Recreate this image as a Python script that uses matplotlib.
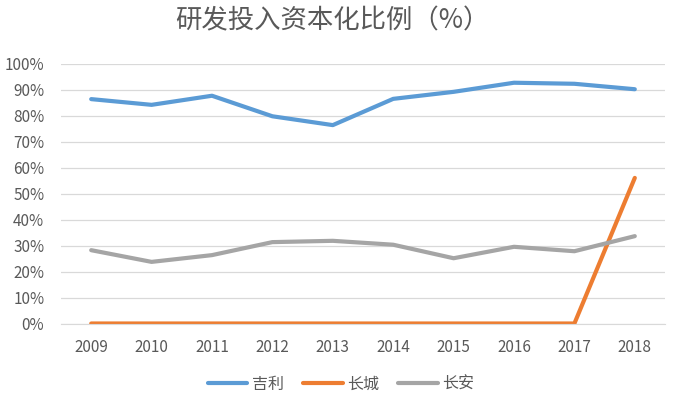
import matplotlib
matplotlib.use("Agg")
import matplotlib.pyplot as plt
from matplotlib.ticker import FuncFormatter

plt.rcParams['font.family'] = ['Noto Sans CJK SC', 'DejaVu Sans']

years = ['2009', '2010', '2011', '2012', '2013', '2014', '2015', '2016', '2017', '2018']
geely = [86.3, 84.1, 87.6, 79.7, 76.3, 86.4, 89.1, 92.6, 92.2, 90.1]
greatwall = [0, 0, 0, 0, 0, 0, 0, 0, 0, 56.0]
changan = [28.2, 23.7, 26.3, 31.3, 31.8, 30.3, 25.1, 29.5, 27.8, 33.6]
series_names = ['吉利', '长城', '长安']

fig = plt.figure(figsize=(6.73, 3.98), dpi=100)
ax = fig.add_axes([61/673, 1 - 323.5/398, 604/673, 260/398])

x = list(range(len(years)))
ax.plot(x, geely, color='#5B9BD5', lw=3, label=series_names[0], solid_capstyle='round')
ax.plot(x, greatwall, color='#ED7D31', lw=3, label=series_names[1], solid_capstyle='round')
ax.plot(x, changan, color='#A5A5A5', lw=3, label=series_names[2], solid_capstyle='round')

ax.set_xlim(-0.5, 9.5)
ax.set_ylim(0, 100)
ax.set_yticks(range(0, 101, 10))
ax.yaxis.set_major_formatter(FuncFormatter(lambda v, p: f"{int(v)}%"))
ax.set_xticks(x)
ax.set_xticklabels(years)
ax.grid(axis='y', color='#D9D9D9', lw=0.9)
ax.set_axisbelow(True)
for s in ['top', 'right', 'left']:
    ax.spines[s].set_visible(False)
ax.spines['bottom'].set_color('#D9D9D9')
ax.tick_params(axis='y', length=0, labelsize=11, labelcolor='#595959', pad=12)
ax.tick_params(axis='x', length=0, labelsize=11, labelcolor='#595959', pad=11)

fig.text(332/673, 1 - 21/398, '研发投入资本化比例（%）', ha='center', va='center',
         fontsize=19, color='#595959')

fig.legend(loc='center', bbox_to_anchor=(341/673, 1 - 384/398), ncol=3, frameon=False,
           fontsize=11.5, labelcolor='#595959', handlelength=2.5, columnspacing=1.15,
           handletextpad=0.3)

fig.savefig('out.png', dpi=100)
